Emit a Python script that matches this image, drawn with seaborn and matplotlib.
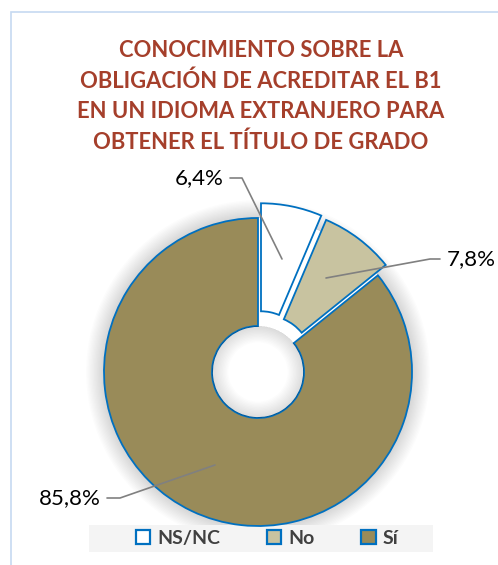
import numpy as np
import matplotlib
matplotlib.use('Agg')
import matplotlib.pyplot as plt
import matplotlib.patches as mpatches
import seaborn as sns

# datos
categorias = ['NS/NC', 'No', 'Sí']
porcentajes = [6.4, 7.8, 85.8]
colores = ['#FFFFFF', '#C8C3A0', '#998B59']
titulo = ('CONOCIMIENTO SOBRE LA\nOBLIGACIÓN DE ACREDITAR EL B1\n'
          'EN UN IDIOMA EXTRANJERO PARA\nOBTENER EL TÍTULO DE GRADO')

sns.set_theme(style='white')
plt.rcParams['font.family'] = ['Lato', 'DejaVu Sans']

W, H = 498, 565
fig = plt.figure(figsize=(W / 100, H / 100), dpi=100)
ax = fig.add_axes([0, 0, 1, 1])

def py(y):
    # pixel (desde arriba) -> coordenada de datos
    return H - y

centro = (258, py(372))
R = 154
hueco = 46

# sombra suave alrededor del anillo (solo por fuera)
for i in range(14):
    ax.add_patch(mpatches.Wedge(centro, R + 1 + i * 1.3, 0, 360, width=1 + i * 1.3,
                                color='black', alpha=0.011, lw=0, zorder=0))

wedges, _ = ax.pie(porcentajes, colors=colores, startangle=90, counterclock=False,
                   radius=R, center=centro, explode=[15, 13, 0],
                   wedgeprops=dict(width=R - hueco, edgecolor='#0070C0', linewidth=1.3))
for w in wedges:
    w.set_zorder(2)

ax.set_xlim(0, W)
ax.set_ylim(0, H)
ax.set_aspect('equal')
ax.axis('off')

# sombra interior del hueco
for i in range(12):
    ax.add_patch(mpatches.Wedge(centro, hueco, 0, 360, width=1 + i * 1.4,
                                color='black', alpha=0.011, lw=0, zorder=3))

# etiquetas con líneas guía
etiquetas = [f'{v:.1f}'.replace('.', ',') + '%' for v in porcentajes]
guias = [
    ((230, 178), (242, 178), (282, 259), 'right'),
    ((440, 259), (430, 259), (326, 278), 'left'),
    ((107, 498), (120, 498), (215, 465), 'right'),
]
for txt, (p0, p1, p2, ha) in zip(etiquetas, guias):
    xs = [p0[0], p1[0], p2[0]]
    ys = [py(p0[1]), py(p1[1]), py(p2[1])]
    ax.plot(xs, ys, color='#808080', lw=1.2, zorder=4)
    dx = -6 if ha == 'right' else 7
    ax.text(p0[0] + dx, py(p0[1]), txt, ha=ha, va='center',
            fontsize=16, color='#000000', zorder=5)

# título
fig.text(261 / W, 1 - 96.5 / H, titulo, ha='center', va='center', fontsize=15.8,
         fontweight='bold', color='#A53F2B', linespacing=1.55)

# fondo de la leyenda
ax.add_patch(mpatches.Rectangle((89, py(552)), 344, 27, facecolor='#F4F4F4',
                                edgecolor='none', zorder=1))
leg = ax.legend(wedges, categorias, loc='center', ncol=3,
                bbox_to_anchor=(267 / W, 1 - 538.5 / H), frameon=False,
                prop=dict(weight='bold', size=14), labelcolor='#404040',
                handlelength=0.75, handleheight=0.75, handletextpad=0.35,
                columnspacing=2.4, borderpad=0, borderaxespad=0)
for h in leg.legend_handles:
    h.set_edgecolor('#0070C0')
    h.set_linewidth(1.6)

# marco del gráfico
ax.add_patch(mpatches.Rectangle((11, -10), W, py(12) + 10, fill=False,
                                edgecolor='#C6D9F1', lw=1.2, zorder=0, clip_on=False))

fig.savefig('out.png', dpi=100)
